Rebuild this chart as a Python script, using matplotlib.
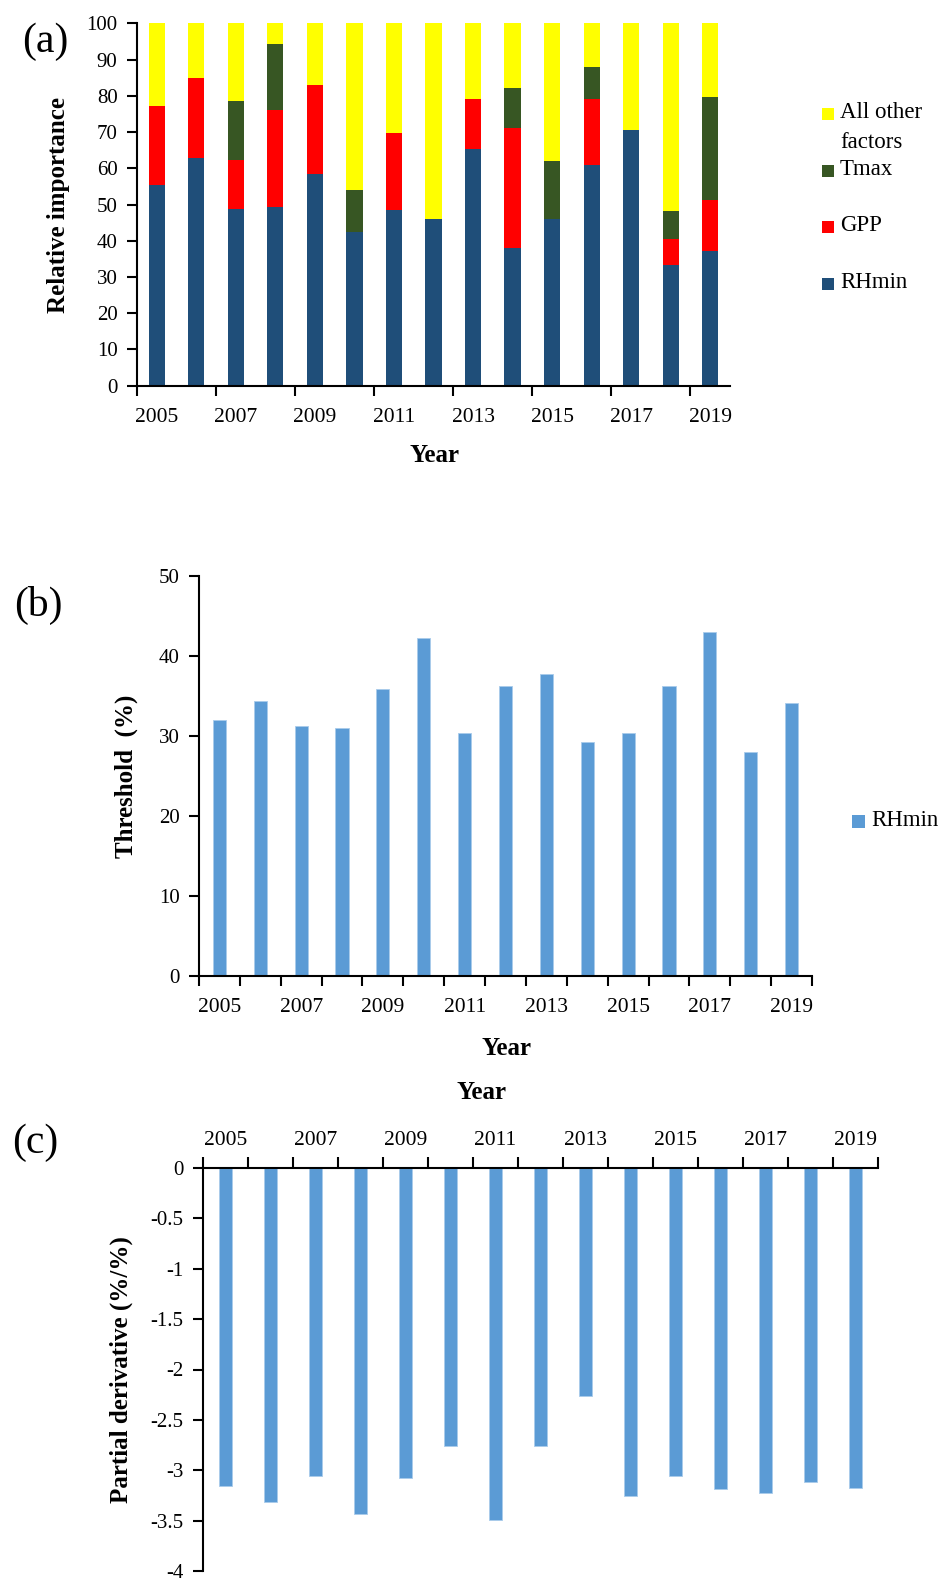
import matplotlib
matplotlib.use("Agg")
import matplotlib.pyplot as plt
from matplotlib.patches import Rectangle
import numpy as np

plt.rcParams['font.family'] = ['Liberation Serif', 'DejaVu Serif']

# ---- data ----
years = [2005, 2006, 2007, 2008, 2009, 2010, 2011, 2012, 2013,
         2014, 2015, 2016, 2017, 2018, 2019]

# (a) relative importance (%) of drivers
rhmin_imp = [55.4, 62.9, 48.7, 49.3, 58.5, 42.5, 48.4, 45.9, 65.4,
             38.1, 45.9, 61.0, 70.5, 33.3, 37.1]
gpp_imp = [21.7, 22.0, 13.6, 26.9, 24.5, 0.0, 21.4, 0.0, 13.8,
           33.1, 0.0, 18.2, 0.0, 7.3, 14.1]
tmax_imp = [0.0, 0.0, 16.4, 18.2, 0.0, 11.6, 0.0, 0.0, 0.0,
            11.1, 16.0, 8.8, 0.0, 7.5, 28.4]
other_imp = [100 - a - b - c for a, b, c in zip(rhmin_imp, gpp_imp, tmax_imp)]

# (b) RHmin threshold (%)
threshold = [32.0, 34.4, 31.2, 31.0, 35.9, 42.2, 30.4, 36.3, 37.8,
             29.2, 30.4, 36.2, 43.0, 28.0, 34.1]

# (c) partial derivative (%/%)
partial = [-3.16, -3.32, -3.06, -3.43, -3.08, -2.76, -3.49, -2.76, -2.26,
           -3.26, -3.06, -3.19, -3.23, -3.12, -3.18]

# ---- styling ----
C_RH = "#1F4E79"
C_GPP = "#FF0000"
C_TMAX = "#375623"
C_OTHER = "#FFFF00"
C_BLUE = "#5B9BD5"
SPINE_W = 1.5
XT_FS = 15.5
YT_FS = 15
LAB_FS = 18
LEG_FS = 16.5

W, H = 949, 1582
fig = plt.figure(figsize=(W / 100, H / 100), dpi=100)


def axes_px(left, top, right, bottom):
    return fig.add_axes([left / W, 1 - bottom / H, (right - left) / W, (bottom - top) / H])


def style_axes(ax, spines):
    for s in ["top", "right", "bottom", "left"]:
        ax.spines[s].set_visible(s in spines)
        ax.spines[s].set_linewidth(SPINE_W)
    ax.tick_params(axis="both", which="both", width=SPINE_W, color="black")


x = np.arange(len(years))

# ================= (a) =================
ax1 = axes_px(137, 23.5, 730, 385.7)
style_axes(ax1, ["left", "bottom"])

bw = 0.41
bottom = np.zeros(len(years))
for vals, col, lab in [(rhmin_imp, C_RH, "RHmin"), (gpp_imp, C_GPP, "GPP"),
                       (tmax_imp, C_TMAX, "Tmax"), (other_imp, C_OTHER, "All other factors")]:
    ax1.bar(x, vals, bw, bottom=bottom, color=col, label=lab, linewidth=0)
    bottom += np.array(vals)

ax1.set_xlim(-0.5, len(years) - 0.5)
ax1.set_ylim(0, 100)
ax1.set_yticks(np.arange(0, 101, 10))
ax1.set_xticks(np.arange(-0.5, len(years) - 1, 2))
ax1.set_xticklabels([])
ax1.set_xticks(x[::2], minor=True)
ax1.set_xticklabels([str(y) for y in years[::2]], minor=True, fontsize=XT_FS)
ax1.tick_params(axis="x", which="major", direction="out", length=7)
ax1.tick_params(axis="x", which="minor", length=0, pad=16)
ax1.tick_params(axis="y", direction="out", length=7, labelsize=YT_FS, pad=7)
ax1.set_ylabel("Relative importance", fontsize=LAB_FS, fontweight="bold")
ax1.yaxis.set_label_coords(-0.113, 0.5)
ax1.set_xlabel("Year", fontsize=LAB_FS, fontweight="bold")
ax1.xaxis.set_label_coords(0.5025, -0.162)

# legend (a)
leg_items = [("All other\nfactors", C_OTHER, 114), ("Tmax", C_TMAX, 171),
             ("GPP", C_GPP, 227), ("RHmin", C_RH, 284)]
for lab, col, yc in leg_items:
    fig.add_artist(Rectangle((822 / W, 1 - (yc + 6) / H), 12 / W, 12 / H,
                             transform=fig.transFigure, color=col, linewidth=0))
    fig.text(840 / W, 1 - (yc - 12) / H, lab, fontsize=LEG_FS, va="top", ha="left",
             linespacing=1.55)

fig.text(22 / W, 1 - 42 / H, "(a)", fontsize=30, va="center", ha="left")

# ================= (b) =================
ax2 = axes_px(199, 576, 812, 976)
style_axes(ax2, ["left", "bottom"])
ax2.bar(x, threshold, 0.32, color=C_BLUE, linewidth=0.6, edgecolor="#A9CBEB", label="RHmin")
ax2.set_xlim(-0.5, len(years) - 0.5)
ax2.set_ylim(0, 50)
ax2.set_yticks(np.arange(0, 51, 10))
ax2.set_xticks(np.arange(-0.5, len(years), 1))
ax2.set_xticklabels([])
ax2.set_xticks(x[::2], minor=True)
ax2.set_xticklabels([str(y) for y in years[::2]], minor=True, fontsize=XT_FS)
ax2.tick_params(axis="x", which="major", direction="out", length=7)
ax2.tick_params(axis="x", which="minor", length=0, pad=16)
ax2.tick_params(axis="y", direction="out", length=7, labelsize=YT_FS, pad=7)
ax2.set_ylabel("Threshold  (%)", fontsize=LAB_FS, fontweight="bold")
ax2.yaxis.set_label_coords(-0.0995, 0.5)
ax2.set_xlabel("Year", fontsize=LAB_FS, fontweight="bold")
ax2.xaxis.set_label_coords(0.502, -0.153)

fig.add_artist(Rectangle((852 / W, 1 - (821 + 6.5) / H), 13 / W, 13 / H,
                         transform=fig.transFigure, color=C_BLUE, linewidth=0))
fig.text(871 / W, 1 - 821 / H, "RHmin", fontsize=LEG_FS, va="center", ha="left")

fig.text(14 / W, 1 - 605 / H, "(b)", fontsize=30, va="center", ha="left")

# ================= (c) =================
ax3 = axes_px(203, 1168, 878, 1571)
style_axes(ax3, ["left", "top"])
ax3.bar(x, partial, 0.31, color=C_BLUE, linewidth=0.6, edgecolor="#A9CBEB")
ax3.set_xlim(-0.5, len(years) - 0.5)
ax3.set_ylim(-4, 0)
yt3 = np.arange(-4, 0.01, 0.5)
ax3.set_yticks(yt3)
ax3.set_yticklabels([f"{v:g}" for v in yt3])
ax3.xaxis.tick_top()
ax3.xaxis.set_label_position("top")
ax3.set_xticks(np.arange(-0.5, len(years), 1))
ax3.set_xticklabels([])
ax3.set_xticks(x[::2], minor=True)
ax3.set_xticklabels([str(y) for y in years[::2]], minor=True, fontsize=XT_FS)
ax3.tick_params(axis="x", which="major", direction="out", length=8, top=True, bottom=False)
ax3.tick_params(axis="x", which="minor", length=0, pad=13, top=True, bottom=False)
ax3.tick_params(axis="y", direction="out", length=7, labelsize=YT_FS, pad=7)
ax3.set_ylabel("Partial derivative (%/%)", fontsize=LAB_FS, fontweight="bold")
ax3.yaxis.set_label_coords(-0.104, 0.5)
ax3.set_xlabel("Year", fontsize=LAB_FS, fontweight="bold")
ax3.xaxis.set_label_coords(0.413, 1.172)

fig.text(12 / W, 1 - 1143 / H, "(c)", fontsize=30, va="center", ha="left")

fig.savefig("out.png", dpi=100, facecolor="white")
